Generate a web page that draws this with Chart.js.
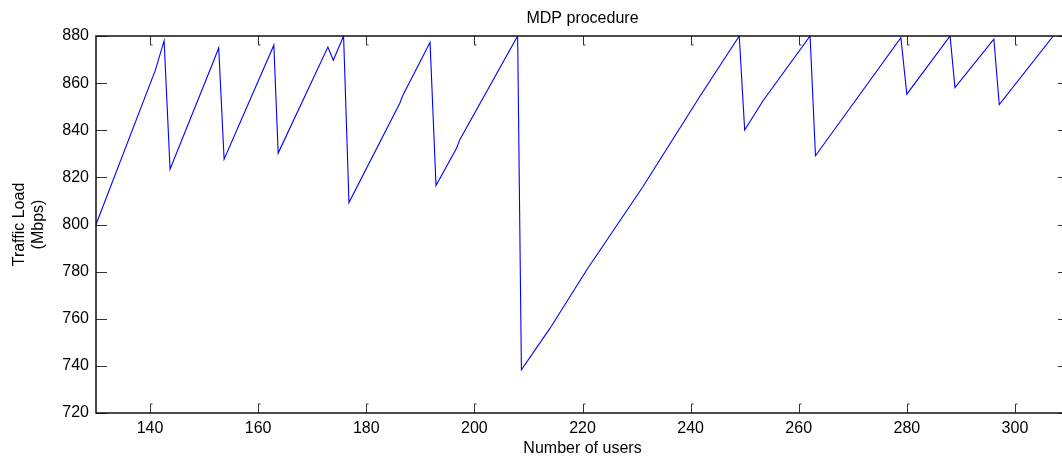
<!DOCTYPE html>
<html><head><meta charset="utf-8">
<script src="https://cdn.jsdelivr.net/npm/chart.js@4"></script>
<style>
html,body{margin:0;padding:0;background:#fff;overflow:hidden}
#wrap{width:1062px;height:458px;overflow:hidden;position:relative;background:#fff}
canvas{display:block}
</style></head>
<body><div id="wrap"><canvas id="c" width="1072" height="458"></canvas></div>
<script>
// Data (vertices of the traced line)
const users = [130, 141.0, 142.6, 143.7, 151.7, 152.7, 153.7, 162.9, 163.7, 172.9, 173.9, 175.8, 176.8, 186.2, 186.8, 191.8, 192.9, 196.7, 197.3, 208.0, 208.7, 214.0, 220.8, 231.2, 241.7, 249.0, 250.0, 253.4, 262.1, 263.1, 278.9, 280.0, 288.0, 288.9, 296.1, 297.1, 307.1];
const load  = [800, 865.6, 878.0, 823.5, 869.1, 875.0, 827.7, 876.1, 830.3, 875.3, 869.7, 880, 809.3, 851.5, 855.0, 877.3, 816.5, 832.4, 836.0, 880, 738.3, 756.0, 780.8, 816.1, 854.3, 880, 840.1, 852.5, 880, 829.2, 879.3, 855.3, 880, 858.1, 878.7, 850.9, 880];
const xTickValues = [140, 160, 180, 200, 220, 240, 260, 280, 300];
const yTickValues = [720, 740, 760, 780, 800, 820, 840, 860, 880];
const titleText = 'MDP procedure';
const xLabel = 'Number of users';
const yLabel = ['Traffic Load', '(Mbps)'];

Chart.defaults.font.family = "'Liberation Sans', Arial, Helvetica, sans-serif";
Chart.defaults.font.size = 16;
Chart.defaults.color = '#000';

const titleOverPlot = {
  id: 'titleOverPlot',
  afterLayout(chart) {
    const t = chart.titleBlock;
    if (t) { t.left = chart.chartArea.left; t.right = chart.chartArea.right; t.width = t.right - t.left; }
  }
};

const matlabAxes = {
  id: 'matlabAxes',
  afterDraw(chart) {
    const ctx = chart.ctx;
    const {left, right, top, bottom} = chart.chartArea;
    const xs = chart.scales.x, ys = chart.scales.y;
    ctx.save();
    ctx.strokeStyle = '#333';
    ctx.lineWidth = 1;
    ctx.beginPath();
    xTickValues.forEach(v => {
      const p = Math.round(xs.getPixelForValue(v)) + 0.5;
      ctx.moveTo(p, bottom); ctx.lineTo(p, bottom - 9); ctx.lineTo(p + 2, bottom - 9);
      ctx.moveTo(p, top); ctx.lineTo(p, top + 9); ctx.lineTo(p + 2, top + 9);
    });
    yTickValues.forEach(v => {
      const p = Math.round(ys.getPixelForValue(v)) + 0.5;
      ctx.moveTo(left, p); ctx.lineTo(left + 11, p);
      ctx.moveTo(right, p); ctx.lineTo(right - 11, p);
    });
    ctx.stroke();
    ctx.strokeStyle = '#111';
    ctx.lineWidth = 1.5;
    ctx.strokeRect(left, top, right - left, bottom - top);
    ctx.restore();
  }
};

new Chart(document.getElementById('c'), {
  type: 'line',
  data: {
    datasets: [{
      data: users.map((u, i) => ({x: u, y: load[i]})),
      borderColor: '#0000ff',
      borderWidth: 1.1,
      pointRadius: 0,
      tension: 0,
      fill: false
    }]
  },
  options: {
    responsive: false,
    animation: false,
    devicePixelRatio: 1,
    layout: {padding: {left: 0, right: 3, top: 0, bottom: 0}},
    plugins: {
      legend: {display: false},
      tooltip: {enabled: false},
      title: {
        display: true,
        text: titleText,
        color: '#000',
        font: {size: 16, weight: 'normal', lineHeight: 1.25},
        padding: {top: 9, bottom: 7}
      }
    },
    scales: {
      x: {
        type: 'linear',
        min: 130, max: 310,
        grid: {display: false, drawTicks: false},
        border: {display: false},
        afterBuildTicks: s => { s.ticks = xTickValues.map(v => ({value: v})); },
        afterFit: s => { s.height = 45; },
        ticks: {padding: 6, maxRotation: 0, autoSkip: false, color: '#000', font: {size: 16}},
        title: {display: true, text: xLabel, color: '#000', font: {size: 16, lineHeight: 1.2}, padding: {top: 0, bottom: 0}}
      },
      y: {
        min: 720, max: 880,
        grid: {display: false, drawTicks: false},
        border: {display: false},
        afterBuildTicks: s => { s.ticks = yTickValues.map(v => ({value: v})); },
        afterFit: s => { s.width = 96; },
        ticks: {padding: 7, autoSkip: false, color: '#000', font: {size: 16}},
        title: {display: true, text: yLabel, color: '#000', font: {size: 16, lineHeight: 1.2}, padding: {top: 10, bottom: 0}}
      }
    }
  },
  plugins: [titleOverPlot, matlabAxes]
});
</script>
</body></html>
